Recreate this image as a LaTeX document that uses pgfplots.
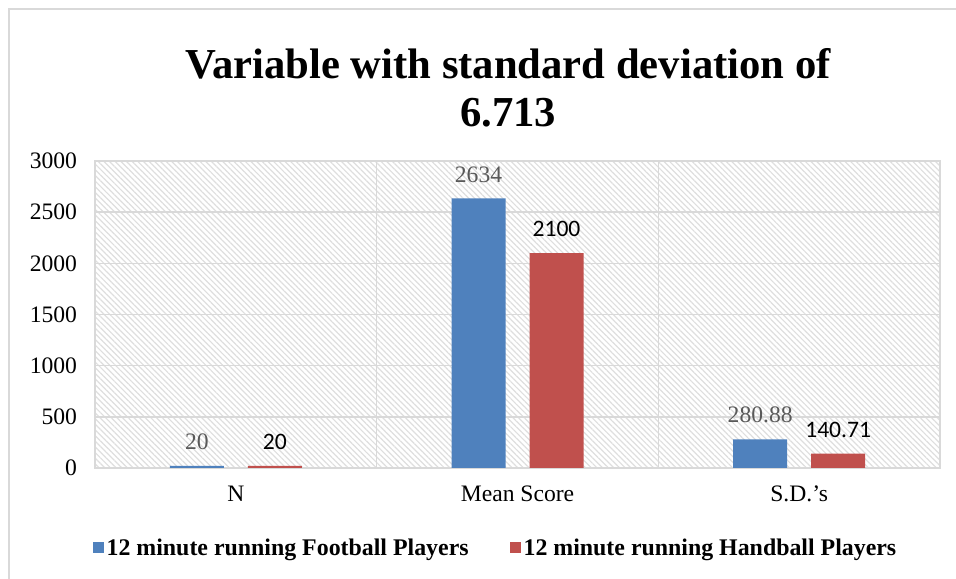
\documentclass[border=0pt]{standalone}
\usepackage{fontspec}
\setmainfont{Liberation Serif}
\newfontfamily\calibri{Carlito}
\usepackage{pgfplots}
\pgfplotsset{compat=1.18}
\usetikzlibrary{patterns,patterns.meta}
\definecolor{fb}{HTML}{4F81BD}
\definecolor{hb}{HTML}{C0504D}
\definecolor{gridc}{HTML}{D9D9D9}
\definecolor{hatchc}{HTML}{DEDEDE}
\definecolor{lblgray}{HTML}{595959}
\begin{document}
\begin{tikzpicture}
\path[use as bounding box] (0,0) rectangle (717pt,433.5pt);
\draw[gridc, line width=1.1pt] (6.75pt,-5pt) -- (6.75pt,426.75pt) -- (725pt,426.75pt);
\begin{axis}[
  at={(71.25pt,82.5pt)}, anchor=south west,
  scale only axis, width=633.75pt, height=230.25pt,
  ybar=18pt, bar width=40.5pt,
  xmin=-0.5, xmax=2.5, ymin=0, ymax=3000,
  xtick={0,1,2}, xticklabels={N, Mean Score, S.D.’s},
  ytick={0,500,...,3000},
  major tick length=0pt,
  ymajorgrids, grid style={gridc, line width=1.1pt},
  extra x ticks={0.5,1.5}, extra x tick labels={},
  extra x tick style={xmajorgrids=true, major tick length=0pt},
  axis line style={gridc, line width=1.1pt},
  axis background/.style={pattern={Lines[angle=-45, distance=3pt, line width=0.9pt]}, pattern color=hatchc},
  tick label style={font=\fontsize{17.7}{20}\selectfont},
  /pgf/number format/assume math mode=true,
  /pgf/number format/1000 sep={},
  xticklabel style={yshift=-10pt},
  yticklabel style={xshift=-10pt},
  legend columns=2,
  legend style={at={(0.4745,-0.26)}, anchor=center, draw=none, fill=none,
    font=\bfseries\fontsize{17.9}{20}\selectfont,
    /tikz/every even column/.append style={column sep=29pt},
    /tikz/every odd column/.append style={column sep=0pt}},
  legend image code/.code={\fill[#1] (0pt,-4.1pt) rectangle (8.25pt,4.1pt);},
  nodes near coords,
  point meta=explicit symbolic,
]
\addplot[fill=fb, draw=none,
  every node near coord/.append style={font=\fontsize{17.7}{20}\selectfont, text=lblgray, anchor=center, yshift=18pt}]
  table[meta=label] {
x y label
0 20 20
1 2634 2634
2 280.88 280.88
};
\addlegendentry{12 minute running Football Players}
\addplot[fill=hb, draw=none,
  every node near coord/.append style={font=\calibri\fontsize{17.7}{20}\selectfont, text=black, anchor=center, yshift=18pt}]
  table[meta=label] {
x y label
0 20 20
1 2100 2100
2 140.71 140.71
};
\addlegendentry{12 minute running Handball Players}
\end{axis}
\node[anchor=base, font=\bfseries\fontsize{32}{36}\selectfont] at (381pt,374.25pt) {Variable with standard deviation of};
\node[anchor=base, font=\bfseries\fontsize{32}{36}\selectfont] at (381pt,338.25pt) {6.713};
\end{tikzpicture}
\end{document}
